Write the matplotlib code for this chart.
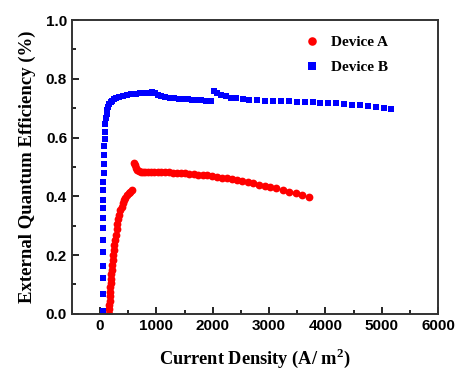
'''
EQE vs current density for two devices
'''

import matplotlib
matplotlib.use('Agg')
import matplotlib.pyplot as plt
from matplotlib.ticker import MultipleLocator

# Device A (red circles): two segments
a_x = [160, 163, 166, 170, 174, 178, 183, 188, 194, 200, 207, 215, 223, 232, 242,
       253, 265, 278, 292, 308, 325, 343, 362, 382, 403, 425, 450, 477, 505, 533, 560,
       600, 615, 635, 660, 690, 720, 760, 800, 850, 900, 960, 1020, 1080, 1150, 1220,
       1290, 1360, 1430, 1500, 1580, 1660, 1740, 1820, 1900, 1985, 2070, 2160, 2250,
       2340, 2430, 2520, 2620, 2720, 2820, 2920, 3020, 3130, 3240, 3350, 3470, 3590, 3700]
a_y = [0.000, 0.015, 0.030, 0.045, 0.060, 0.075, 0.090, 0.105, 0.120, 0.135, 0.150,
       0.167, 0.183, 0.200, 0.217, 0.235, 0.252, 0.270, 0.288, 0.305, 0.322, 0.338,
       0.352, 0.365, 0.376, 0.386, 0.395, 0.403, 0.410, 0.416, 0.422,
       0.512, 0.505, 0.497, 0.490, 0.486, 0.484, 0.483, 0.482, 0.482, 0.482, 0.482,
       0.482, 0.482, 0.482, 0.482, 0.481, 0.480, 0.479, 0.478, 0.477, 0.476, 0.474,
       0.473, 0.471, 0.469, 0.467, 0.464, 0.461, 0.458, 0.455, 0.452, 0.448, 0.444,
       0.440, 0.436, 0.432, 0.427, 0.422, 0.416, 0.410, 0.404, 0.398]

# Device B (blue squares)
b_x = [45, 47, 48, 50, 51, 52, 53, 54, 55, 56, 58, 60, 62, 66, 70, 75, 80, 88, 95,
       105, 115, 128, 145, 165, 190, 220, 250, 290, 340, 400, 470, 550, 630, 710, 790,
       860, 930, 980, 1030, 1090, 1160, 1240, 1320, 1400, 1480, 1560, 1640, 1720, 1800,
       1880, 1960,
       2030, 2080, 2150, 2230, 2320, 2420, 2530, 2650, 2790, 2930, 3070, 3210, 3350,
       3490, 3630, 3770, 3910, 4050, 4190, 4330, 4470, 4610, 4750, 4890, 5030, 5170]
b_y = [0.010, 0.068, 0.121, 0.164, 0.212, 0.252, 0.291, 0.325, 0.359, 0.388, 0.422,
       0.450, 0.478, 0.510, 0.540, 0.570, 0.595, 0.620, 0.645, 0.665, 0.680, 0.695,
       0.705, 0.713, 0.720, 0.725, 0.730, 0.735, 0.739, 0.742, 0.745, 0.747, 0.749,
       0.750, 0.751, 0.752, 0.755, 0.752, 0.745, 0.740, 0.737, 0.735, 0.733, 0.732,
       0.731, 0.730, 0.729, 0.728, 0.727, 0.726, 0.725,
       0.760, 0.752, 0.745, 0.740, 0.736, 0.733, 0.731, 0.729, 0.727, 0.726, 0.725,
       0.724, 0.723, 0.722, 0.721, 0.720, 0.719, 0.718, 0.716, 0.714, 0.712, 0.710,
       0.708, 0.705, 0.701, 0.697]

plt.rcParams['mathtext.fontset'] = 'custom'
plt.rcParams['mathtext.bf'] = 'Liberation Serif:bold'
plt.rcParams['mathtext.rm'] = 'Liberation Serif:bold'

fig = plt.figure(figsize=(4.55, 3.71), dpi=100)
ax = fig.add_axes([0.158, 0.154, 0.805, 0.792])

ax.plot(a_x, a_y, 'o', color='#ff0000', markersize=5.6, markeredgewidth=0, label='Device A')
ax.plot(b_x, b_y, 's', color='#0000ff', markersize=5, markeredgewidth=0, label='Device B')

ax.set_xlim(-500, 6000)
ax.set_ylim(0, 1.0)
ax.xaxis.set_major_locator(MultipleLocator(1000))
ax.xaxis.set_minor_locator(MultipleLocator(500))
ax.yaxis.set_major_locator(MultipleLocator(0.2))
ax.yaxis.set_minor_locator(MultipleLocator(0.1))
ax.yaxis.set_major_formatter(plt.FormatStrFormatter('%.1f'))

ax.tick_params(which='both', direction='in', width=1.2)
ax.tick_params(which='major', length=5)
ax.tick_params(which='minor', length=3)
for lab in ax.get_xticklabels() + ax.get_yticklabels():
    lab.set_fontfamily('Liberation Sans')
    lab.set_fontweight('bold')
    lab.set_fontsize(11)
for sp in ax.spines.values():
    sp.set_linewidth(1.4)
    sp.set_color('#333333')

ax.set_xlabel('Current Density (A/ m$^\\mathbf{2}$)', family='Liberation Serif',
              fontweight='bold', fontsize=13.2, labelpad=10)
ax.set_ylabel('External Quantum Efficiency (%)', family='Liberation Serif',
              fontweight='bold', fontsize=13.5, labelpad=7)

leg = ax.legend(loc='upper right', bbox_to_anchor=(0.90, 0.995), frameon=False,
                prop={'family': 'Liberation Serif', 'weight': 'bold', 'size': 11},
                handletextpad=0.2, labelspacing=0.75, markerscale=1.1)

fig.savefig('out.png', dpi=100)
